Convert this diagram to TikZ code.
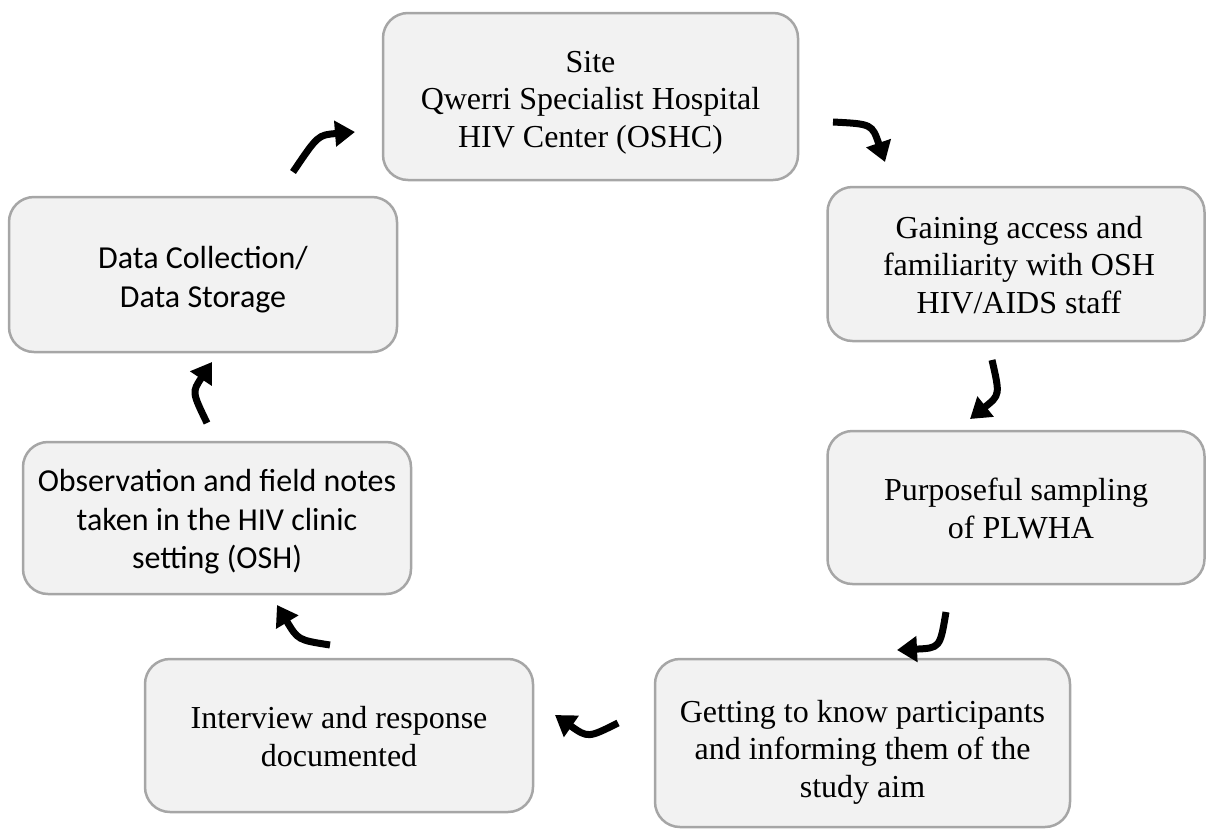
\documentclass[tikz,border=0pt]{standalone}
\usepackage{fontspec}
\setmainfont{Liberation Serif}
\newfontfamily\calfont{Carlito}
\usetikzlibrary{arrows.meta}
\definecolor{boxfill}{HTML}{F2F2F2}
\definecolor{boxline}{HTML}{A6A6A6}
\tikzset{
  stagebox/.style={draw=boxline, line width=2.5pt, fill=boxfill, rounded corners=25pt,
    inner sep=0pt},
  seriftext/.style={align=center, inner sep=0pt, font=\fontsize{32}{37.5}\selectfont},
  sanstext/.style={align=center, inner sep=0pt, font=\calfont\fontsize{32}{38.5}\selectfont},
  flow/.style={line width=7pt, -{Triangle[length=20pt,width=25pt]}}
}
\begin{document}
\begin{tikzpicture}[x=1pt,y=-1pt]
\useasboundingbox (0,0) rectangle (1207,836);
\node[stagebox, minimum width=415pt, minimum height=167pt] (site) at (590.5,96.5) {};
\node[stagebox, minimum width=377pt, minimum height=154pt] (gain) at (1016,264) {};
\node[stagebox, minimum width=377pt, minimum height=153pt] (purp) at (1016,507.5) {};
\node[stagebox, minimum width=415pt, minimum height=168pt] (know) at (862.5,743) {};
\node[stagebox, minimum width=388pt, minimum height=153pt] (intv) at (339,735.5) {};
\node[stagebox, minimum width=388pt, minimum height=152pt] (obs) at (217,518) {};
\node[stagebox, minimum width=388pt, minimum height=155pt] (data) at (203,274.5) {};

\node[seriftext] (site-t) at ([yshift=-6pt]site.center)
  {Site\\Qwerri Specialist Hospital\\HIV Center (OSHC)};
\node[seriftext] (gain-t) at ([xshift=3pt,yshift=-1pt]gain.center)
  {Gaining access and\\familiarity with OSH\\HIV/AIDS staff};
\node[seriftext] (purp-t) at ([yshift=-1pt]purp.center)
  {Purposeful sampling\\\hspace*{10pt}of PLWHA};
\node[seriftext] (know-t) at ([yshift=-9pt]know.center)
  {Getting to know participants\\and informing them of the\\study aim};
\node[seriftext] (intv-t) at ([yshift=-1pt]intv.center)
  {Interview and response\\documented};
\node[sanstext] (obs-t) at ([yshift=-4pt]obs.center)
  {Observation and field notes\\taken in the HIV clinic\\setting (OSH)};
\node[sanstext] (data-t) at ([yshift=-5pt]data.center)
  {Data Collection/\\Data Storage};

\coordinate (a1s) at (293,172); \coordinate (a1e) at (355,132);
\coordinate (a2s) at (833,122); \coordinate (a2e) at (885,162);
\coordinate (a3s) at (992,360); \coordinate (a3e) at (970,419);
\coordinate (a4s) at (946,612); \coordinate (a4e) at (897,650);
\coordinate (a5s) at (618,723); \coordinate (a5e) at (555,715);
\coordinate (a6s) at (330,645); \coordinate (a6e) at (277,605);
\coordinate (a7s) at (207,423); \coordinate (a7e) at (212,362);

\draw[flow] (a1s) .. controls (318,135) .. (a1e);
\draw[flow] (a2s) .. controls (872,124) .. (a2e);
\draw[flow] (a3s) .. controls (1000,395) .. (a3e);
\draw[flow] (a4s) .. controls (940,648) .. (a4e);
\draw[flow] (a5s) .. controls (588,738) .. (a5e);
\draw[flow] (a6s) .. controls (298,640) .. (a6e);
\draw[flow] (a7s) .. controls (192,392) .. (a7e);
\end{tikzpicture}
\end{document}
